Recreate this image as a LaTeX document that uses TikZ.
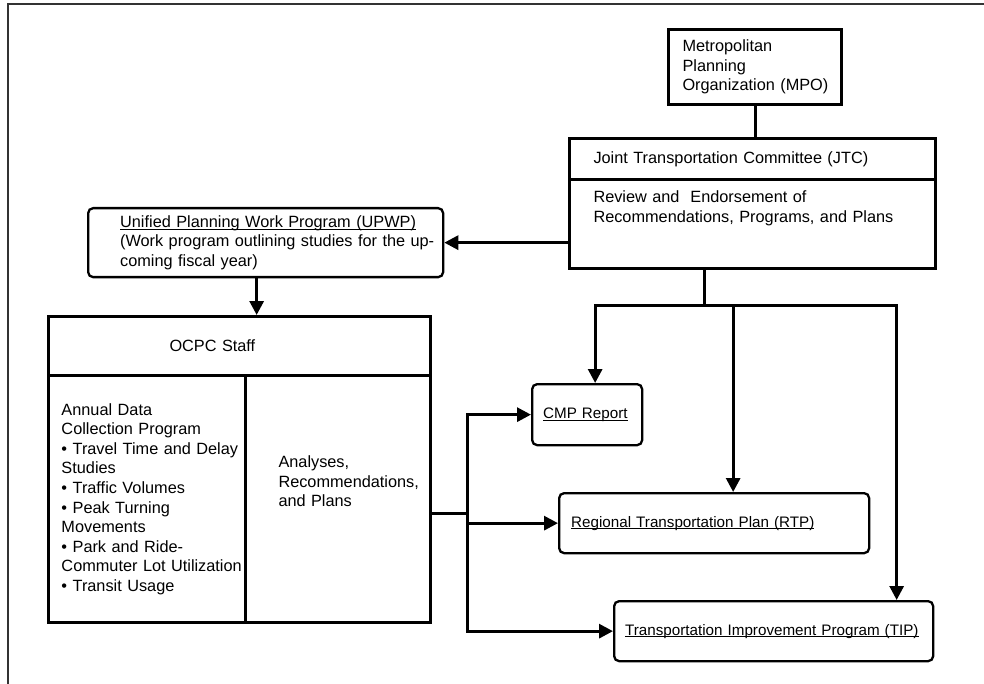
\documentclass[tikz,border=0pt]{standalone}
\usepackage{fontspec}
\setmainfont{Liberation Sans}
\usetikzlibrary{arrows.meta}

\newcommand{\lbl}{\fontsize{16.3}{19.6}\selectfont}
\newcommand{\sml}{\fontsize{15.2}{18.2}\selectfont}
\newcommand{\undl}[1]{\setbox0\hbox{#1}\rlap{\rule[-2.4pt]{\wd0}{1.1pt}}\box0}

\begin{document}
\begin{tikzpicture}[
  x=1pt, y=-1pt,
  box/.style={draw, line width=3pt, anchor=north west, align=left, inner sep=0pt, font=\lbl},
  rbox/.style={box, line width=2.3pt, rounded corners=5pt},
  doc/.style={rbox, font=\sml},
  line/.style={line width=3pt},
  arr/.style={line, -{Triangle[length=14pt,width=14pt]}},
  frame/.style={line width=2pt, draw=black!80}
]
\useasboundingbox (0,0) rectangle (984,684);
\draw[frame] (8,684) -- (8,4) -- (984,4);

\node[box, text width=173pt, minimum height=75pt] (mpo) at (667,28)
  {\leftskip=14pt Metropolitan\\Planning\\Organization (MPO)\par};
\node[box, text width=366pt, minimum height=41pt] (jtch) at (568,137)
  {\leftskip=24pt Joint Transportation Committee (JTC)\par};
\node[box, text width=366pt, text height=23pt, text depth=66pt] (jtcb) at (568,178)
  {\leftskip=24pt Review and\ \ Endorsement of\\Recommendations, Programs, and Plans\par};
\node[rbox, text width=355pt, minimum height=69pt] (upwp) at (87,207)
  {\leftskip=32pt \undl{Unified Planning Work Program (UPWP)}\\(Work program outlining studies for the up-\\coming fiscal year)\par};

% OCPC box in three parts
\node[box, text width=382pt, minimum height=59pt] (staff) at (47,315)
  {\leftskip=121pt OCPC Staff\par};
\node[box, text width=197pt, minimum height=247pt] (data) at (47,374)
  {\leftskip=13pt Annual Data\\Collection Program\\• Travel Time and Delay\\Studies\\• Traffic Volumes\\• Peak Turning\\Movements\\• Park and Ride-\\Commuter Lot Utilization\\• Transit Usage\par};
\node[box, text width=185pt, text height=92pt, text depth=155pt] (anl) at (244,374)
  {\leftskip=33pt Analyses,\\Recommendations,\\and Plans\par};

\node[doc, text width=110pt, minimum height=61pt] (cmp) at (531,383)
  {\leftskip=11pt \undl{CMP Report}\par};
\node[doc, text width=310pt, minimum height=60pt] (rtp) at (558,492)
  {\leftskip=12pt \undl{Regional Transportation Plan (RTP)}\par};
\node[doc, text width=319pt, minimum height=60pt] (tip) at (613,600)
  {\leftskip=11pt \undl{Transportation Improvement Program (TIP)}\par};

\coordinate (split) at (704,305);
\coordinate (fan) at (467,513);

\draw[line] (mpo.south) -- (mpo.south |- jtch.north);
\draw[arr] (upwp -| jtcb.west) -- (upwp.east);
\draw[arr] ([xshift=-9pt]upwp.south) -- ([xshift=-9pt]upwp.south |- staff.north);

\draw[line] (jtcb.south -| split) -- (split);
\draw[arr] (split) -| ([xshift=8pt]cmp.north);
\draw[arr] (split) -| ([xshift=19pt]rtp.north);
\draw[arr] (split) -| ([xshift=123pt]tip.north);

\draw[line] (anl.east |- fan) -- (fan);
\draw[arr] (fan) |- (cmp.west);
\draw[arr] (fan) |- (rtp.west);
\draw[arr] (fan) |- (tip.west);
\end{tikzpicture}
\end{document}
